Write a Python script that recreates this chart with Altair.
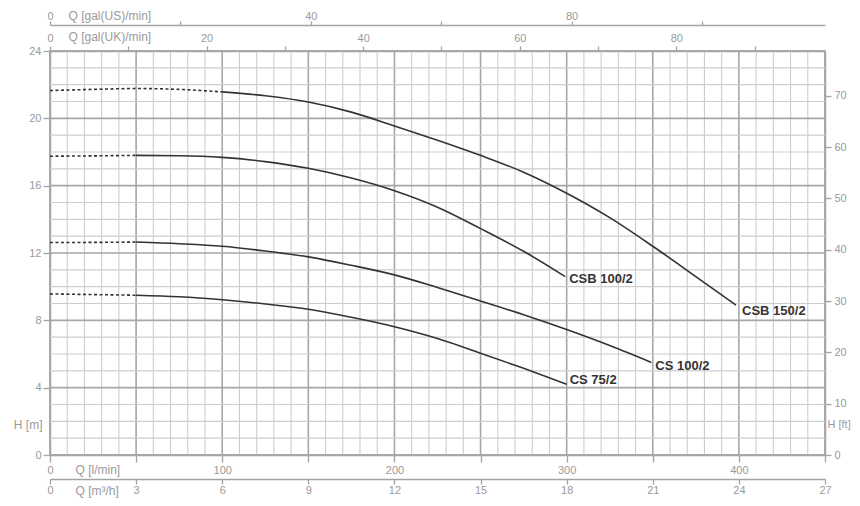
import altair as alt
import pandas as pd

# ---------------- data (Q in m3/h, H in m) ----------------
models = ["CSB 150/2", "CSB 100/2", "CS 100/2", "CS 75/2"]

csb150_dash_q = [0, 1.5, 3, 4.5, 6]
csb150_dash_h = [21.65, 21.72, 21.77, 21.72, 21.57]
csb150_q = [6, 7.5, 9, 10.5, 12, 13.5, 15, 16.5, 18, 19.5, 21, 22.5, 23.9]
csb150_h = [21.57, 21.34, 20.97, 20.37, 19.55, 18.7, 17.8, 16.8, 15.55, 14.1, 12.4, 10.6, 8.9]

csb100_dash_q = [0, 1.5, 3]
csb100_dash_h = [17.75, 17.77, 17.8]
csb100_q = [3, 4.5, 6, 7.5, 9, 10.5, 12, 13.5, 15, 16.5, 17.95]
csb100_h = [17.8, 17.78, 17.68, 17.43, 17.03, 16.45, 15.7, 14.72, 13.45, 12.1, 10.6]

cs100_dash_q = [0, 1.5, 3]
cs100_dash_h = [12.62, 12.63, 12.65]
cs100_q = [3, 4.5, 6, 7.5, 9, 10.5, 12, 13.5, 15, 16.5, 18, 19.5, 20.95]
cs100_h = [12.65, 12.55, 12.4, 12.12, 11.77, 11.27, 10.7, 9.95, 9.15, 8.33, 7.45, 6.5, 5.5]

cs75_dash_q = [0, 1.5, 3]
cs75_dash_h = [9.57, 9.53, 9.49]
cs75_q = [3, 4.5, 6, 7.5, 9, 10.5, 12, 13.5, 15, 16.5, 18]
cs75_h = [9.49, 9.4, 9.22, 8.97, 8.66, 8.18, 7.62, 6.92, 6.05, 5.15, 4.2]

# axis tick values
m3h_ticks = [0, 3, 6, 9, 12, 15, 18, 21, 24, 27]
lmin_ticks = [0, 50, 100, 150, 200, 250, 300, 350, 400, 450]
galuk_ticks = [0, 10, 20, 30, 40, 50, 60, 70, 80, 90]
galus_ticks = [0, 20, 40, 60, 80, 100]
hm_ticks = [0, 4, 8, 12, 16, 20, 24]
hft_ticks = [0, 10, 20, 30, 40, 50, 60, 70]

# grid: every 10 l/min vertically, every 1 m horizontally
grid_lmin = list(range(0, 451, 10))
grid_m = list(range(0, 25, 1))

Q_MAX = 27.0           # m3/h
H_MAX = 24.0           # m
LMIN_MAX = Q_MAX * 1000 / 60
GALUK_MAX = LMIN_MAX / 4.54609
GALUS_MAX = LMIN_MAX / 3.78541
FT_MAX = H_MAX / 0.3048

FONT = "Liberation Sans"
GRAY = "#9a9a9a"

W, H = 775, 404

# ---------------- build frames ----------------
solid_rows, dash_rows, end_rows = [], [], []
series = [
    (models[0], csb150_q, csb150_h, csb150_dash_q, csb150_dash_h),
    (models[1], csb100_q, csb100_h, csb100_dash_q, csb100_dash_h),
    (models[2], cs100_q, cs100_h, cs100_dash_q, cs100_dash_h),
    (models[3], cs75_q, cs75_h, cs75_dash_q, cs75_dash_h),
]
for name, q, h, dq, dh in series:
    for a, b in zip(q, h):
        solid_rows.append({"model": name, "q": a, "h": b})
    for a, b in zip(dq, dh):
        dash_rows.append({"model": name, "q": a, "h": b})
    end_rows.append({"model": name, "q": q[-1], "h": h[-1]})

solid_df = pd.DataFrame(solid_rows)
dash_df = pd.DataFrame(dash_rows)
end_df = pd.DataFrame(end_rows)

vgrid_df = pd.DataFrame({"lmin": grid_lmin})
hgrid_df = pd.DataFrame({"m": grid_m})

xs = alt.Scale(domain=[0, Q_MAX], nice=False, zero=False)
ys = alt.Scale(domain=[0, H_MAX], nice=False, zero=False)

label_style = dict(labelFont=FONT, labelFontSize=11, labelColor=GRAY,
                   titleFont=FONT, titleFontSize=12, titleColor=GRAY,
                   titleFontWeight="normal", titleAngle=0,
                   domainColor="#a3a3a3", tickColor="#a3a3a3",
                   domainWidth=1.5, tickWidth=1.3, grid=False,
                   labelFlush=False, labelOverlap=False)

# vertical grid (+ bottom m3/h axis)
vgrid = alt.Chart(vgrid_df).transform_calculate(
    q="datum.lmin * 60 / 1000",
    major="datum.lmin % 50 == 0"
).mark_rule().encode(
    x=alt.X("q:Q", scale=xs,
            axis=alt.Axis(values=m3h_ticks, orient="bottom", offset=24,
                          tickSize=5, labelPadding=0,
                          title="Q [m³/h]", titleX=25, titleY=11,
                          titleAlign="left", titleBaseline="middle",
                          **label_style)),
    color=alt.condition("datum.major", alt.value("#a6a6a6"), alt.value("#cdcdcd")),
    strokeWidth=alt.condition("datum.major", alt.value(1.6), alt.value(1.1)),
)

# horizontal grid (+ left m axis)
hgrid = alt.Chart(hgrid_df).transform_calculate(
    major="datum.m % 4 == 0"
).mark_rule().encode(
    y=alt.Y("m:Q", scale=ys,
            axis=alt.Axis(values=hm_ticks, orient="left", tickSize=7,
                          labelPadding=2, title="H [m]", titleX=-8, titleY=373,
                          titleAlign="right", titleBaseline="middle",
                          **label_style)),
    color=alt.condition("datum.major", alt.value("#a6a6a6"), alt.value("#cdcdcd")),
    strokeWidth=alt.condition("datum.major", alt.value(1.6), alt.value(1.1)),
)

dashed = alt.Chart(dash_df).mark_line(
    color="#333333", strokeWidth=1.6, strokeDash=[3, 2.5], interpolate="monotone"
).encode(
    x=alt.X("q:Q", scale=xs), y=alt.Y("h:Q", scale=ys), detail="model:N"
)

solid = alt.Chart(solid_df).mark_line(
    color="#333333", strokeWidth=1.6, interpolate="monotone"
).encode(
    x=alt.X("q:Q", scale=xs), y=alt.Y("h:Q", scale=ys), detail="model:N"
)

label_offsets = {"CSB 150/2": (6, 6), "CSB 100/2": (4, 2),
                 "CS 100/2": (4, 4), "CS 75/2": (3, -4)}
label_layers = []
for name in models:
    ddx, ddy = label_offsets[name]
    label_layers.append(
        alt.Chart(end_df).transform_filter(alt.datum.model == name).mark_text(
            align="left", baseline="middle", dx=ddx, dy=ddy, font=FONT,
            fontSize=13, fontWeight="bold", color="#333333"
        ).encode(
            x=alt.X("q:Q", scale=xs), y=alt.Y("h:Q", scale=ys), text="model:N"
        )
    )

main = alt.layer(vgrid, hgrid, dashed, solid, *label_layers)

axis_df = pd.DataFrame({"v": [0]})

lmin_axis = alt.Chart(axis_df).mark_point(opacity=0).encode(
    x=alt.X("v:Q", scale=alt.Scale(domain=[0, LMIN_MAX], nice=False, zero=False),
            axis=alt.Axis(values=lmin_ticks, orient="bottom", offset=0,
                          tickSize=7, labelPadding=2,
                          labelExpr="datum.value % 100 == 0 ? datum.label : ''",
                          title="Q [l/min]", titleX=25, titleY=14,
                          titleAlign="left", titleBaseline="middle",
                          **label_style))
)

galuk_axis = alt.Chart(axis_df).mark_point(opacity=0).encode(
    x=alt.X("v:Q", scale=alt.Scale(domain=[0, GALUK_MAX], nice=False, zero=False),
            axis=alt.Axis(values=galuk_ticks, orient="top", offset=0,
                          tickSize=5, labelPadding=3,
                          labelExpr="datum.value % 20 == 0 ? datum.label : ''",
                          title="Q [gal(UK)/min]", titleX=18, titleY=-15,
                          titleAlign="left", titleBaseline="middle",
                          **label_style))
)

galus_axis = alt.Chart(axis_df).mark_point(opacity=0).encode(
    x=alt.X("v:Q", scale=alt.Scale(domain=[0, GALUS_MAX], nice=False, zero=False),
            axis=alt.Axis(values=galus_ticks, orient="top", offset=26,
                          tickSize=4, labelPadding=0,
                          labelExpr="datum.value % 40 == 0 ? datum.label : ''",
                          title="Q [gal(US)/min]", titleX=18, titleY=-10,
                          titleAlign="left", titleBaseline="middle",
                          **label_style))
)

ft_axis = alt.Chart(axis_df).mark_point(opacity=0).encode(
    y=alt.Y("v:Q", scale=alt.Scale(domain=[0, FT_MAX], nice=False, zero=False),
            axis=alt.Axis(values=hft_ticks, orient="right", offset=0,
                          tickSize=6, labelPadding=3,
                          title="H [ft]", titleX=2, titleY=373,
                          titleAlign="left", titleBaseline="middle",
                          titleFontSize=11,
                          **{k: v for k, v in label_style.items() if k != "titleFontSize"}))
)

chart = alt.layer(main, lmin_axis, galuk_axis, galus_axis, ft_axis).resolve_scale(
    x="independent", y="independent"
).properties(
    width=W, height=H,
    autosize=alt.AutoSizeParams(type="none"),
    padding={"left": 42, "top": 43, "right": 26, "bottom": 43},
    background="white",
).configure_view(stroke="#a3a3a3", strokeWidth=1.5)

chart.save("out.html", embed_options={"renderer": "svg", "actions": False})
